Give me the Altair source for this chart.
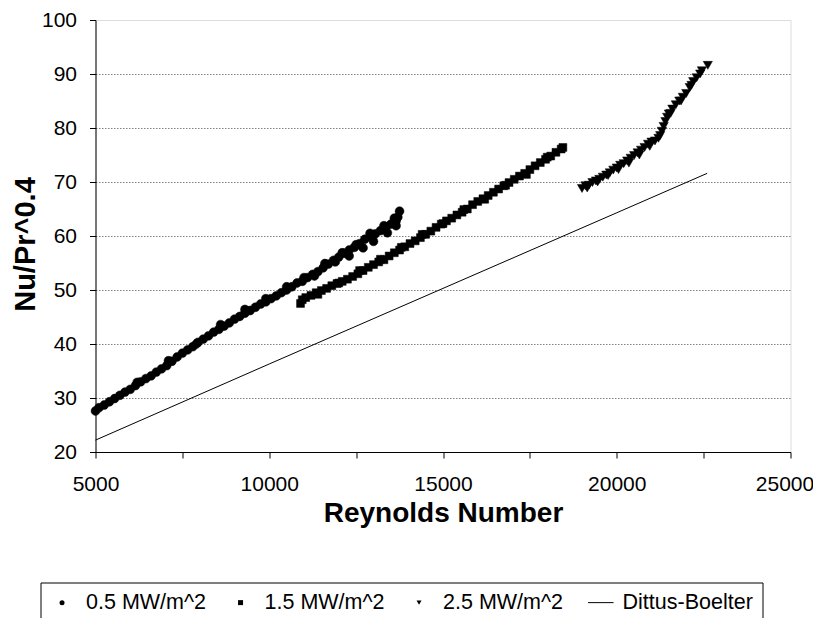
import altair as alt
import pandas as pd

# ---- data ----
series_names = ["0.5 MW/m^2", "1.5 MW/m^2", "2.5 MW/m^2", "Dittus-Boelter"]
series_shapes = ["circle", "square", "triangle-down", "M-4.2,-0.2L6,-0.2L6,0.2L-4.2,0.2Z"]
marker_sizes = [78, 62, 85]

re_05 = [5000, 5100, 5250, 5400, 5550, 5700, 5850, 6000, 6150, 6300, 6450, 6600,
         6750, 6900, 7050, 7200, 7350, 7500, 7650, 7800, 7950, 8100, 8250, 8400,
         8550, 8700, 8850, 9000, 9150, 9300, 9450, 9600, 9750, 9900, 10050, 10200,
         10350, 10500, 10650, 10800, 10950, 11100, 11250, 11400, 11550, 11700,
         11850, 12000, 12150, 12300, 12450, 12600, 12750, 12900, 13050, 13200,
         13350, 13500, 13650, 13700, 13750, 12300, 12700, 13000, 13400, 13650,
         6200, 7100, 7900, 8600, 9300, 9900, 10500, 11000, 11600, 12100, 12500,
         12900, 13300, 13600, 11300, 11900]
nu_05 = [27.6, 28.2, 28.7, 29.3, 29.9, 30.5, 31.1, 31.6, 32.3, 33.0, 33.6, 34.1,
         34.8, 35.4, 36.0, 36.8, 37.6, 38.3, 38.9, 39.5, 40.3, 40.9, 41.5, 42.2,
         42.7, 43.3, 43.9, 44.6, 45.1, 45.7, 46.2, 46.8, 47.4, 47.8, 48.4, 48.9,
         49.5, 50.0, 50.6, 51.3, 51.6, 52.3, 52.9, 53.4, 54.1, 54.8,
         55.5, 56.1, 56.8, 57.4, 57.9, 58.6, 59.4, 59.9, 60.4, 61.0,
         61.6, 62.2, 62.8, 63.5, 64.6, 56.3, 57.8, 59.0, 60.6, 61.9,
         32.9, 36.9, 40.0, 43.6, 46.4, 48.4, 50.6, 52.3, 54.9, 56.9, 58.4,
         60.5, 61.9, 63.3, 52.6, 55.2]

re_15 = [10900, 10950, 11050, 11200, 11350, 11500, 11650, 11800, 11950, 12100,
         12250, 12400, 12550, 12700, 12850, 13000, 13150, 13300, 13450, 13600,
         13750, 13900, 14050, 14200, 14350, 14500, 14650, 14800, 14950, 15100,
         15250, 15400, 15550, 15700, 15850, 16000, 16150, 16300, 16450, 16600,
         16750, 16900, 17050, 17200, 17350, 17500, 17650, 17800, 17950, 18100,
         18250, 18400, 18450, 11400, 12000, 12600, 13200, 13800, 14400, 15000,
         15600, 16200, 16800, 17400, 18000]
nu_15 = [47.5, 48.2, 48.6, 49.0, 49.5, 49.9, 50.3, 50.8, 51.2, 51.6,
         52.0, 52.5, 53.0, 53.6, 54.2, 54.7, 55.2, 55.6, 56.3, 56.9,
         57.4, 58.0, 58.6, 59.1, 59.7, 60.3, 60.9, 61.6, 62.2, 62.8,
         63.3, 63.9, 64.4, 65.0, 65.8, 66.4, 66.9, 67.5, 68.1, 68.7,
         69.3, 69.9, 70.5, 71.1, 71.6, 72.3, 73.0, 73.6, 74.2, 74.8,
         75.5, 76.1, 76.4, 49.2, 51.3, 53.6, 55.7, 57.9, 60.3, 62.3,
         64.9, 66.8, 69.4, 71.4, 74.6]

re_25 = [19000, 19100, 19200, 19300, 19400, 19500, 19600, 19700, 19800, 19900,
         20000, 20100, 20200, 20300, 20400, 20500, 20600, 20700, 20800, 20900,
         21000, 21100, 21200, 21300, 21350, 21400, 21450, 21500, 21600, 21700,
         21800, 21900, 22000, 22100, 22200, 22300, 22400, 22450, 22620,
         19150, 19450, 19750, 20050, 20350, 20650, 20950, 21250, 21550, 21850,
         22150]
nu_25 = [68.8, 69.3, 69.4, 69.9, 70.2, 70.5, 70.9, 71.3, 71.7, 72.2,
         72.6, 73.1, 73.4, 73.9, 74.4, 74.9, 75.4, 75.9, 76.4, 77.0,
         77.4, 77.6, 78.1, 79.4, 80.3, 81.2, 82.0, 82.6, 83.5, 84.3,
         85.0, 85.7, 86.4, 87.5, 88.6, 89.3, 90.0, 90.6, 91.6,
         68.9, 70.0, 71.2, 72.3, 73.5, 75.0, 76.6, 78.6, 82.7, 85.0,
         87.9]

re_db = [5000, 10000, 15000, 20000, 22600]
nu_db = [22.2, 36.3, 50.3, 64.3, 71.6]

x_ticks = [5000, 7500, 10000, 12500, 15000, 17500, 20000, 22500, 25000]
y_ticks = [20, 25, 30, 35, 40, 45, 50, 55, 60, 65, 70, 75, 80, 85, 90, 95, 100]

# ---- tables ----
series_frames = [
    pd.DataFrame({"Re": re_05, "Nu": nu_05, "series": series_names[0]}),
    pd.DataFrame({"Re": re_15, "Nu": nu_15, "series": series_names[1]}),
    pd.DataFrame({"Re": re_25, "Nu": nu_25, "series": series_names[2]}),
]
db = pd.DataFrame({"Re": re_db, "Nu": nu_db, "series": series_names[3]})

FONT = "Liberation Sans"

x_enc = alt.X(
    "Re:Q",
    scale=alt.Scale(domain=[5000, 25000], nice=False, zero=False),
    axis=alt.Axis(
        title="Reynolds Number",
        values=x_ticks,
        format="d",
        labelExpr="datum.value % 5000 == 0 ? datum.label : ''",
        grid=False,
        domainColor="black",
        tickColor="black",
        tickSize=6,
        labelFont=FONT, labelFontSize=21, labelColor="black", labelPadding=15,
        labelOffset={"condition": {"test": "datum.value == 25000", "value": -6}, "value": 0},
        labelFlush=False, labelOverlap=False,
        titleFont=FONT, titleFontSize=28, titleFontWeight="bold", titleColor="black",
        titleY=69, titleBaseline="alphabetic",
    ),
)
y_enc = alt.Y(
    "Nu:Q",
    scale=alt.Scale(domain=[20, 100], nice=False, zero=False),
    axis=alt.Axis(
        title="Nu/Pr^0.4",
        values=y_ticks,
        labelExpr="datum.value % 10 == 0 ? datum.label : ''",
        grid=True,
        gridColor="#808080",
        gridDash=[1.5, 1.5],
        gridWidth=1,
        gridOpacity={"condition": {"test": "datum.value % 10 == 0 && datum.value > 20 && datum.value < 100",
                                   "value": 1}, "value": 0},
        domainColor="black",
        tickColor="black",
        tickSize=6,
        labelFont=FONT, labelFontSize=21, labelColor="black", labelPadding=13,
        labelFlush=False, labelOverlap=False,
        titleFont=FONT, titleFontSize=29, titleFontWeight="bold", titleColor="black",
        titleX=-61, titleY=224, titleAlign="center", titleBaseline="alphabetic", titleAngle=-90,
    ),
)

legend = alt.Legend(
    title=" ", titleOrient="left", titleFontSize=2, titlePadding=1.8,
    orient="none", legendX=-55, legendY=562.5, direction="horizontal",
    strokeColor="black", fillColor="white", padding=9,
    labelFont=FONT, labelFontSize=21.5, labelColor="black", labelOffset=13.25,
    columnPadding=23.5,
    symbolSize=25, symbolFillColor="black", symbolStrokeColor="black",
    symbolStrokeWidth=0.5,
)
shape_enc = alt.Shape(
    "series:N",
    scale=alt.Scale(domain=series_names, range=series_shapes),
    legend=legend,
)

point_layers = [
    alt.Chart(frame).mark_point(
        filled=True, color="black", opacity=1, size=sz, stroke="black", strokeWidth=0.5
    ).encode(x=x_enc, y=y_enc, shape=shape_enc)
    for frame, sz in zip(series_frames, marker_sizes)
]

line = alt.Chart(db).mark_line(color="black", strokeWidth=1).encode(
    x=alt.X("Re:Q"), y=alt.Y("Nu:Q")
)

chart = alt.layer(line, *point_layers).properties(
    width=695, height=432,
    autosize=alt.AutoSizeParams(type="none"),
    padding={"left": 87.5, "top": 12, "right": 22.5, "bottom": 166},
).configure_view(stroke="black", strokeWidth=1).configure(background="white")

chart.save("out.html", embed_options={"renderer": "svg", "actions": False})
